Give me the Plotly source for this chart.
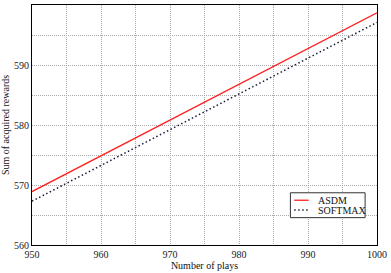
import plotly.graph_objects as go

plays = [950, 975, 1000]
asdm = [568.9, 583.8, 598.7]
softmax = [567.3, 582.2, 597.1]

x_tickvals = [950, 955, 960, 965, 970, 975, 980, 985, 990, 995, 1000]
x_ticktext = ["950", "", "960", "", "970", "", "980", "", "990", "", "1000"]
y_tickvals = [560, 565, 570, 575, 580, 585, 590, 595, 600]
y_ticktext = ["560", "", "570", "", "580", "", "590", "", "600"]

series_names = ["ASDM", "SOFTMAX"]
series_colors = ["#ff2020", "#1a1a3a"]
series_dash = ["solid", "1.5px,2.5px"]

font = "Liberation Serif, Times New Roman, serif"

fig = go.Figure()
for name, ys, col, dash in zip(series_names, [asdm, softmax], series_colors, series_dash):
    fig.add_trace(go.Scatter(x=plays, y=ys, mode="lines", name=name, showlegend=False,
                             line=dict(color=col, width=1.3 if dash == "solid" else 1.5, dash=dash)))

axis_common = dict(showline=True, linecolor="black", linewidth=1.2, mirror=True,
                   showgrid=True, gridcolor="#aaaaaa", griddash="1px,1px", gridwidth=1,
                   zeroline=False, ticks="", tickfont=dict(family=font, size=10, color="#222"))

fig.update_xaxes(range=[950, 1000], tickvals=x_tickvals, ticktext=x_ticktext,
                 title=dict(text="Number of plays", font=dict(family=font, size=10, color="#111"), standoff=2),
                 **axis_common)
fig.update_yaxes(range=[560, 600], tickvals=y_tickvals, ticktext=y_ticktext,
                 title=dict(text="Sum of acquired rewards", font=dict(family=font, size=10, color="#111"), standoff=2),
                 **axis_common)

# manual compact legend (paper coordinates)
fig.add_shape(type="rect", xref="paper", yref="paper", x0=0.749, x1=0.9655, y0=0.114, y1=0.2176,
              line=dict(color="#333", width=1), fillcolor="white", layer="above")
leg_y = [0.1865, 0.1457]
for name, col, dash, yy in zip(series_names, series_colors, series_dash, leg_y):
    fig.add_shape(type="line", xref="paper", yref="paper", x0=0.760, x1=0.802, y0=yy, y1=yy,
                  line=dict(color=col, width=1.3 if dash == "solid" else 1.5, dash=dash), layer="above")
    fig.add_annotation(xref="paper", yref="paper", x=0.8227, y=yy, text=name, showarrow=False,
                       xanchor="left", yanchor="middle", font=dict(family=font, size=10, color="#111"))

fig.update_layout(
    width=391, height=273,
    margin=dict(l=32, r=11, t=4, b=24),
    paper_bgcolor="white", plot_bgcolor="white",
    font=dict(family=font, size=10, color="#111"),
    showlegend=False,
)

fig.write_html("out.html", config={"displayModeBar": False},
               post_script="document.body.style.margin='0';")
